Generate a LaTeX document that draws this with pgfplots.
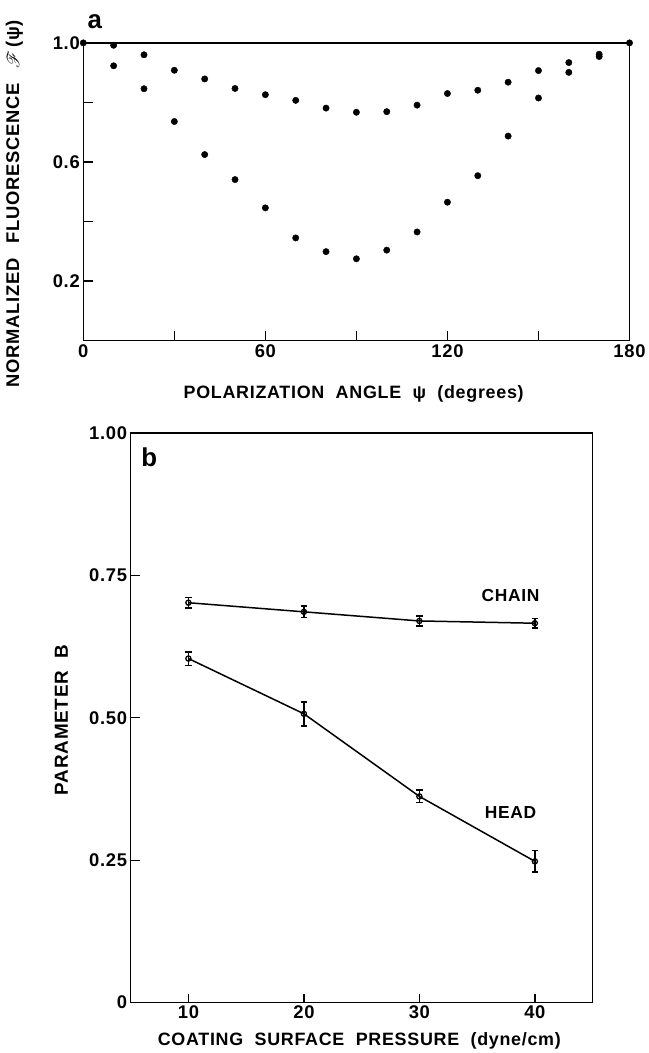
\documentclass[border=0pt]{standalone}
\usepackage{fontspec}
\setmainfont{Liberation Sans}[LetterSpace=4]
\usepackage{mathrsfs}
\usepackage{pgfplots}
\pgfplotsset{compat=1.18}

\pgfplotsset{
  oldfig/.style={
    scale only axis,
    clip=false,
    axis line style={line width=1.3bp},
    tick style={line width=1.3bp, black},
    tick align=inside,
    tick pos=left,
    major tick length=9bp,
    /pgf/number format/assume math mode=true,
    tick label style={font=\fontsize{18.5}{20}\bfseries\selectfont},
    label style={font=\fontsize{18}{20}\bfseries\selectfont},
  },
}

\begin{document}
\begin{tikzpicture}
\path (0,0) rectangle (644bp,1053bp);

% panel a
\begin{axis}[oldfig,
  at={(83.5bp,711.5bp)}, anchor=south west,
  width=547.5bp, height=298.5bp,
  xmin=0, xmax=180, ymin=0, ymax=1,
  xtick={0,30,...,180}, xticklabels={0,,60,,120,,180},
  ytick={0.2,0.4,0.6,0.8,1.0}, yticklabels={0.2,,0.6,,1.0},
  major tick length=10bp,
  xlabel={POLARIZATION\ \ ANGLE\ \ ψ\ \ (degrees)},
  xlabel style={at={(axis description cs:0.495,-0.18)}, anchor=center},
  ylabel={NORMALIZED\ \ \,FLUORESCENCE\ \ \,$\mathscr{F}$\,(ψ)},
  ylabel style={at={(axis description cs:-0.126,0.46)}, anchor=center, rotate=0,
    font=\fontsize{18.5}{20}\bfseries\selectfont},
]
\addplot[only marks, mark=*, mark size=3.2bp, black] coordinates {
  (0,1.0) (10,0.992) (20,0.96) (30,0.908) (40,0.879) (50,0.847) (60,0.826)
  (70,0.807) (80,0.781) (90,0.767) (100,0.769) (110,0.791) (120,0.830)
  (130,0.841) (140,0.868) (150,0.907) (160,0.934) (170,0.962) (180,1.0)
};
\addplot[only marks, mark=*, mark size=3.2bp, black] coordinates {
  (10,0.923) (20,0.846) (30,0.736) (40,0.625) (50,0.541) (60,0.446)
  (70,0.345) (80,0.299) (90,0.275) (100,0.304) (110,0.365) (120,0.465)
  (130,0.554) (140,0.687) (150,0.815) (160,0.901) (170,0.954)
};
\node[font=\fontsize{26}{27}\bfseries\selectfont, anchor=center] at (axis cs:3.8,1.07) {a};
\end{axis}

% panel b
\begin{axis}[oldfig,
  at={(131bp,48bp)}, anchor=south west,
  width=463bp, height=571bp,
  xmin=5, xmax=45, ymin=0, ymax=1,
  xtick={10,20,30,40}, xticklabels={10,20,30,40},
  ytick={0,0.25,0.5,0.75,1}, yticklabels={0,0.25,0.50,0.75,1.00},
  xlabel={COATING\ \ SURFACE\ \ PRESSURE\ \ (dyne/cm)},
  xlabel style={at={(axis description cs:0.495,-0.068)}, anchor=center},
  ylabel={PARAMETER\ \ B},
  ylabel style={at={(axis description cs:-0.150,0.496)}, anchor=center,
    font=\fontsize{19}{20}\bfseries\selectfont},
]
\addplot[black, line width=1.5bp, mark=o, mark size=2.6bp,
  mark options={fill=white, solid, line width=1.3bp},
  error bars/.cd, y dir=both, y explicit,
  error bar style={line width=1.6bp},
  error mark options={rotate=90, mark size=3.2bp, line width=1.6bp}]
  coordinates {
  (10,0.702) +- (0,0.009)
  (20,0.686) +- (0,0.010)
  (30,0.670) +- (0,0.009)
  (40,0.666) +- (0,0.008)
};
\addplot[black, line width=1.5bp, mark=o, mark size=2.6bp,
  mark options={fill=white, solid, line width=1.3bp},
  error bars/.cd, y dir=both, y explicit,
  error bar style={line width=1.6bp},
  error mark options={rotate=90, mark size=3.2bp, line width=1.6bp}]
  coordinates {
  (10,0.604) +- (0,0.012)
  (20,0.507) +- (0,0.021)
  (30,0.362) +- (0,0.011)
  (40,0.248) +- (0,0.019)
};
\node[font=\fontsize{17.5}{19}\bfseries\selectfont] at (axis cs:37.9,0.715) {CHAIN};
\node[font=\fontsize{17.5}{19}\bfseries\selectfont] at (axis cs:37.9,0.334) {HEAD};
\node[font=\fontsize{26}{27}\bfseries\selectfont] at (axis cs:6.6,0.958) {b};
\end{axis}
\end{tikzpicture}
\end{document}
